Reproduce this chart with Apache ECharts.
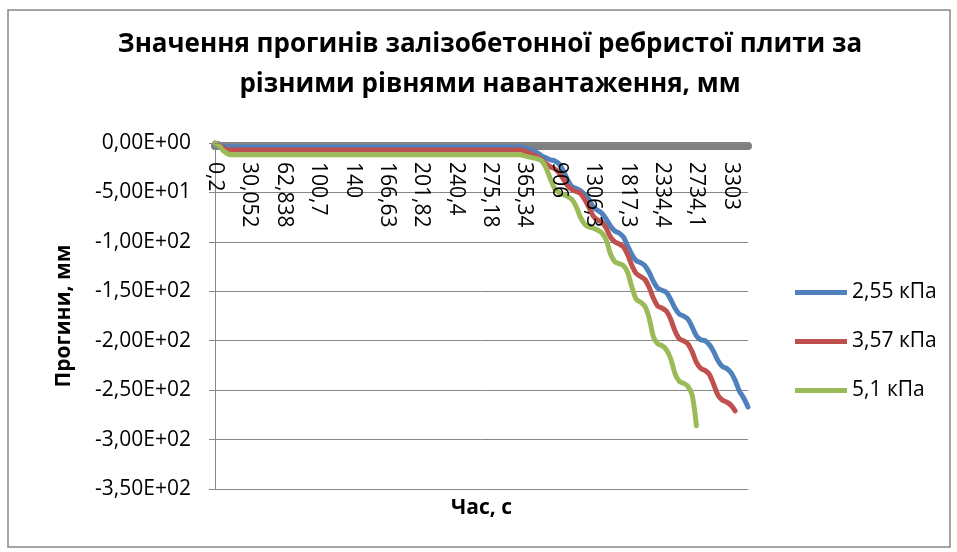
<!DOCTYPE html>
<html>
<head>
<meta charset="utf-8">
<script src="https://cdn.jsdelivr.net/npm/echarts@6/dist/echarts.min.js"></script>
<style>html,body{margin:0;padding:0;background:#fff}#c{width:957px;height:552px}</style>
</head>
<body>
<div id="c"></div>
<script>
// time, s (category axis; only every 8th label is shown, as in the reference)
const categories = [
 '0,2','3,9','7,6','11,3','15','18,7','22,4','26,2',
 '30,052','34','38','42','46','50','54','58',
 '62,838','67,6','72,4','77,1','81,9','86,6','91,4','96',
 '100,7','105,6','110,5','115,4','120,3','125,2','130','135',
 '140','143,3','146,7','150','153,3','156,7','160','163,3',
 '166,63','171','175,4','179,8','184,2','188,6','193','197,4',
 '201,82','206,6','211,4','216,3','221,1','226','230,8','235,6',
 '240,4','244,7','249','253,4','257,7','262','266,5','270,8',
 '275,18','286,4','297,7','309','320,2','331,5','342,8','354',
 '365,34','433','500','568','635','703','770','838',
 '906','956','1006','1056','1106','1156','1206','1256',
 '1306,3','1370','1434','1498','1562','1626','1690','1753',
 '1817,3','1882','1946','2011','2076','2140','2205','2270',
 '2334,4','2384','2434','2484','2534','2584','2634','2684',
 '2734,1','2805','2876','2948','3019','3090','3161','3232',
 '3303','3374','3445','3516','3587'
];

const seriesNames = ['2,55 кПа', '3,57 кПа', '5,1 кПа'];
const baseName = 'Ряд4';

const yTicks = [0, -50, -100, -150, -200, -250, -300, -350];

const base = [
 -3,-3,-3,-3,-3,-3,-3,-3,-3,-3,
 -3,-3,-3,-3,-3,-3,-3,-3,-3,-3,
 -3,-3,-3,-3,-3,-3,-3,-3,-3,-3,
 -3,-3,-3,-3,-3,-3,-3,-3,-3,-3,
 -3,-3,-3,-3,-3,-3,-3,-3,-3,-3,
 -3,-3,-3,-3,-3,-3,-3,-3,-3,-3,
 -3,-3,-3,-3,-3,-3,-3,-3,-3,-3,
 -3,-3,-3,-3,-3,-3,-3,-3,-3,-3,
 -3,-3,-3,-3,-3,-3,-3,-3,-3,-3,
 -3,-3,-3,-3,-3,-3,-3,-3,-3,-3,
 -3,-3,-3,-3,-3,-3,-3,-3,-3,-3,
 -3,-3,-3,-3,-3,-3,-3,-3,-3,-3,
 -3,-3,-3,-3,-3
];

const load255 = [
 0,-1,-3,-4,-4,-4,-4,-4,-4,-4,
 -4,-4,-4,-4,-4,-4,-4,-4,-4,-4,
 -4,-4,-4,-4,-4,-4,-4,-4,-4,-4,
 -4,-4,-4,-4,-4,-4,-4,-4,-4,-4,
 -4,-4,-4,-4,-4,-4,-4,-4,-4,-4,
 -4,-4,-4,-4,-4,-4,-4,-4,-4,-4,
 -4,-4,-4,-4,-4,-4,-4,-4,-4,-4,
 -4,-4,-5,-6,-8,-10,-13,-15,-17,-18,
 -21,-28,-37,-44,-46,-48,-52,-57,-65,-68,
 -71,-77,-84,-89,-91,-95,-104,-113,-119,-121,
 -124,-131,-140,-147,-149,-151,-158,-167,-173,-175,
 -178,-186,-195,-199,-200,-204,-211,-220,-226,-228,
 -232,-240,-251,-258,-267
];

const load357 = [
 0,-2,-5,-7,-7,-7,-7,-7,-7,-7,
 -7,-7,-7,-7,-7,-7,-7,-7,-7,-7,
 -7,-7,-7,-7,-7,-7,-7,-7,-7,-7,
 -7,-7,-7,-7,-7,-7,-7,-7,-7,-7,
 -7,-7,-7,-7,-7,-7,-7,-7,-7,-7,
 -7,-7,-7,-7,-7,-7,-7,-7,-7,-7,
 -7,-7,-7,-7,-7,-7,-7,-7,-7,-7,
 -7,-7,-8,-10,-12,-14,-17,-21,-24,-26,
 -30,-36,-43,-47,-49,-51,-57,-65,-74,-78,
 -80,-86,-95,-100,-102,-105,-113,-124,-132,-135,
 -138,-146,-157,-165,-167,-170,-178,-190,-198,-200,
 -203,-211,-222,-228,-230,-234,-244,-255,-260,-262,
 -265,-271,null,null,null
];

const load51 = [
 0,-3,-8,-11,-12,-12,-12,-12,-12,-12,
 -12,-12,-12,-12,-12,-12,-12,-12,-12,-12,
 -12,-12,-12,-12,-12,-12,-12,-12,-12,-12,
 -12,-12,-12,-12,-12,-12,-12,-12,-12,-12,
 -12,-12,-12,-12,-12,-12,-12,-12,-12,-12,
 -12,-12,-12,-12,-12,-12,-12,-12,-12,-12,
 -12,-12,-12,-12,-12,-12,-12,-12,-12,-12,
 -12,-12,-13,-14,-15,-16,-18,-25,-36,-46,
 -50,-52,-54,-57,-64,-75,-82,-85,-86,-88,
 -91,-98,-112,-120,-122,-124,-131,-146,-158,-161,
 -165,-177,-196,-203,-205,-209,-218,-233,-241,-243,
 -246,-255,-286,null,null,null,null,null,null,null,
 null,null,null,null,null
];

const colors = ['#4F81BD', '#C0504D', '#9BBB59'];
const FONT = 'Open Sans';

function sci(v) {
  if (v === 0) return '0,00E+00';
  const s = Number(v).toExponential(2); // e.g. -5.00e+1
  const [m, e] = s.split('e');
  const sign = e[0] === '-' ? '-' : '+';
  const ex = String(Math.abs(parseInt(e, 10))).padStart(2, '0');
  return m.replace('.', ',') + 'E' + sign + ex;
}

function lineSeries(name, data, color, width, z) {
  return {
    name: name, type: 'line', data: data, showSymbol: false, symbol: 'none',
    smooth: 0.3, connectNulls: false, z: z,
    lineStyle: { color: color, width: width, cap: 'round', join: 'round' },
    itemStyle: { color: color },
    emphasis: { disabled: true }
  };
}

const chart = echarts.init(document.getElementById('c'), null, { renderer: 'canvas' });
chart.setOption({
  animation: false,
  backgroundColor: '#ffffff',
  textStyle: { fontFamily: FONT },
  title: {
    text: 'Значення прогинів залізобетонної ребристої плити за\nрізними рівнями навантаження, мм',
    left: 485, top: 20, textAlign: 'center',
    textStyle: { fontFamily: FONT, fontSize: 26, fontWeight: 'bold', color: '#000', lineHeight: 40 }
  },
  legend: {
    data: seriesNames, orient: 'vertical', left: 790, top: 277,
    icon: 'rect', itemWidth: 52, itemHeight: 5, itemGap: 28,
    textStyle: { fontFamily: FONT, fontSize: 21, color: '#000' }
  },
  grid: { left: 215, right: 209, top: 143, bottom: 63, containLabel: false, outerBoundsMode: 'none' },
  xAxis: {
    type: 'category', data: categories, boundaryGap: false, position: 'top', z: 10,
    name: 'Час, с', nameLocation: 'middle', nameGap: -376,
    nameTextStyle: { fontFamily: FONT, fontSize: 21, fontWeight: 'bold', color: '#000' },
    axisLine: { show: true, onZero: false, lineStyle: { color: '#868686', width: 1 } },
    axisTick: { show: false },
    axisLabel: { inside: true, interval: 7, rotate: 90, margin: 19, fontFamily: FONT, fontSize: 21, color: '#000' },
    splitLine: { show: false }
  },
  yAxis: {
    type: 'value', min: -350, max: 0, interval: 50,
    name: 'Прогини, мм', nameLocation: 'middle', nameGap: 140, nameRotate: 90,
    nameTextStyle: { fontFamily: FONT, fontSize: 21, fontWeight: 'bold', color: '#000' },
    axisLine: { show: true, lineStyle: { color: '#868686', width: 1 } },
    axisTick: { show: true, inside: false, length: 6, lineStyle: { color: '#868686' } },
    axisLabel: { margin: 24, fontFamily: FONT, fontSize: 21, color: '#000', formatter: sci },
    splitLine: { show: true, lineStyle: { color: '#868686', width: 1 } }
  },
  graphic: [{
    type: 'rect', shape: { x: 8, y: 10, width: 942, height: 537 },
    style: { fill: null, stroke: '#868686', lineWidth: 1.5 }, silent: true, z: -1
  }],
  series: [
    lineSeries(baseName, base, '#808080', 8, 1),
    lineSeries(seriesNames[0], load255, colors[0], 5, 2),
    lineSeries(seriesNames[1], load357, colors[1], 5, 3),
    lineSeries(seriesNames[2], load51, colors[2], 5, 4)
  ]
});
</script>
</body>
</html>
